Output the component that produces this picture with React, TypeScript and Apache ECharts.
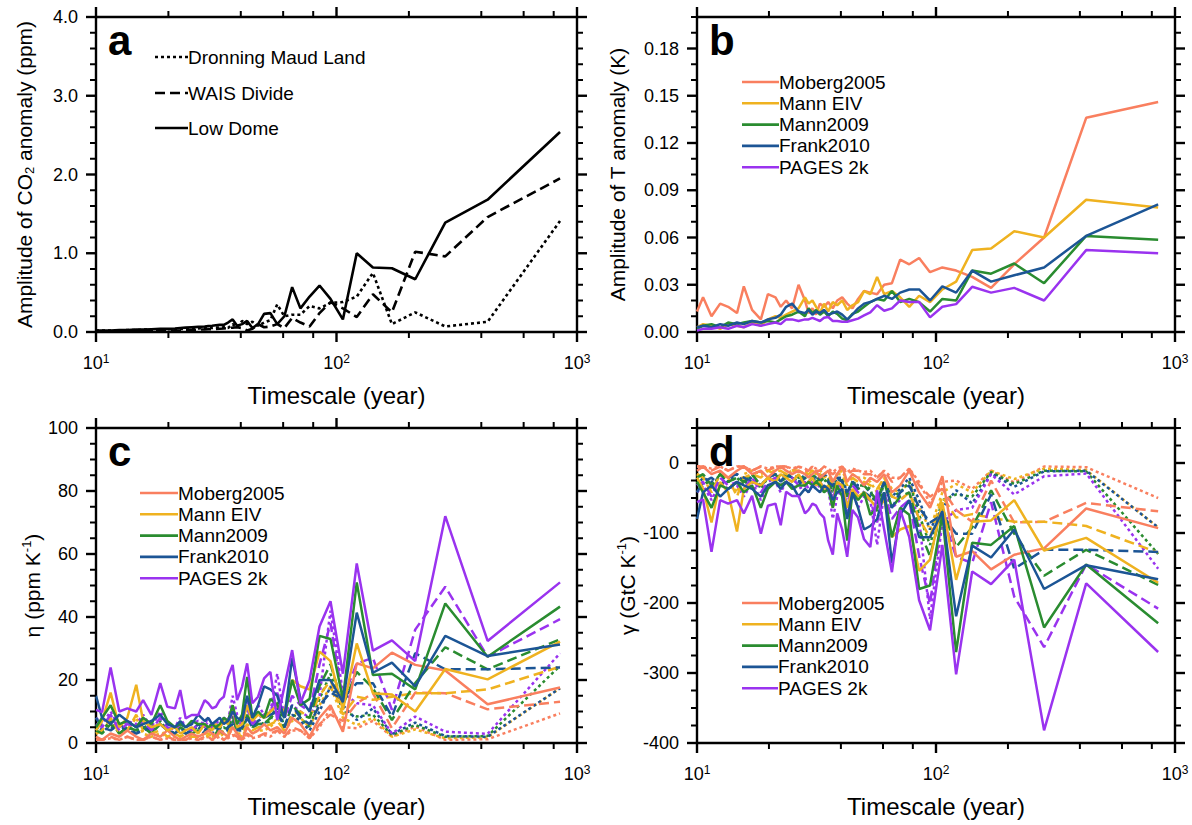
import React, { useEffect, useRef } from 'react';
import * as echarts from 'echarts';

const FONT = '"Liberation Sans", Arial, Helvetica, sans-serif';

// Timescales (years), short to long
const TIMESCALE = [10.0, 10.6, 11.5, 12.5, 13.5, 14.7, 15.7, 17.0, 18.5, 19.8, 21.3, 22.4, 23.6, 25.0, 26.6, 28.3, 29.3, 30.4, 31.5, 32.7, 34.0, 35.4, 37.0, 38.6, 40.5, 42.5, 44.7, 47.2, 50.0, 53.1, 56.7, 60.7, 65.4, 70.8, 77.3, 85.0, 94.4, 106.3, 121.4, 141.7, 170.0, 212.5, 283.3, 425.0, 850.0];

// a: amplitude of CO2 anomaly (ppm)
const CO2_DML = [0.02, 0.02, 0.02, 0.02, 0.025, 0.025, 0.03, 0.03, 0.03, 0.035, 0.035, 0.04, 0.04, 0.045, 0.045, 0.05, 0.05, 0.05, 0.055, 0.055, 0.06, 0.05, 0.1, 0.06, 0.14, 0.1, 0.13, 0.08, 0.12, 0.15, 0.35, 0.2, 0.22, 0.22, 0.33, 0.3, 0.37, 0.38, 0.45, 0.75, 0.1, 0.25, 0.07, 0.13, 1.41];
const CO2_WAIS = [0.01, 0.01, 0.01, 0.012, 0.012, 0.014, 0.015, 0.016, 0.018, 0.02, 0.02, 0.022, 0.025, 0.028, 0.03, 0.032, 0.034, 0.036, 0.04, 0.042, 0.045, 0.05, 0.055, 0.06, 0.05, 0.02, 0.04, 0.1, 0.06, 0.07, 0.1, 0.05, 0.18, 0.12, 0.07, 0.24, 0.38, 0.3, 0.19, 0.48, 0.25, 1.02, 0.96, 1.46, 1.95];
const CO2_LOW_DOME = [0.02, 0.02, 0.02, 0.025, 0.025, 0.03, 0.03, 0.035, 0.04, 0.04, 0.045, 0.05, 0.055, 0.06, 0.065, 0.07, 0.075, 0.08, 0.085, 0.09, 0.09, 0.12, 0.16, 0.08, 0.1, 0.14, 0.05, 0.1, 0.23, 0.24, 0.1, 0.2, 0.57, 0.3, 0.45, 0.59, 0.42, 0.16, 1.0, 0.82, 0.81, 0.67, 1.39, 1.68, 2.54];

// b: amplitude of temperature anomaly (K)
const T_MOBERG = [0.013, 0.022, 0.010, 0.018, 0.016, 0.012, 0.029, 0.014, 0.008, 0.024, 0.022, 0.016, 0.020, 0.015, 0.030, 0.020, 0.012, 0.015, 0.011, 0.018, 0.016, 0.019, 0.015, 0.020, 0.022, 0.018, 0.015, 0.021, 0.026, 0.025, 0.024, 0.030, 0.031, 0.046, 0.043, 0.047, 0.038, 0.041, 0.039, 0.035, 0.028, 0.043, 0.060, 0.136, 0.146];
const T_MANN_EIV = [0.003, 0.005, 0.004, 0.002, 0.005, 0.004, 0.003, 0.006, 0.004, 0.008, 0.010, 0.009, 0.011, 0.013, 0.015, 0.022, 0.018, 0.020, 0.016, 0.012, 0.018, 0.013, 0.019, 0.017, 0.020, 0.014, 0.017, 0.019, 0.026, 0.024, 0.035, 0.024, 0.026, 0.022, 0.016, 0.023, 0.019, 0.027, 0.032, 0.052, 0.053, 0.064, 0.060, 0.084, 0.079];
const T_MANN_2009 = [0.002, 0.004, 0.005, 0.003, 0.006, 0.005, 0.006, 0.007, 0.006, 0.007, 0.006, 0.008, 0.010, 0.011, 0.013, 0.010, 0.015, 0.012, 0.014, 0.011, 0.013, 0.010, 0.013, 0.0115, 0.0085, 0.0075, 0.0115, 0.013, 0.016, 0.019, 0.021, 0.020, 0.026, 0.019, 0.021, 0.019, 0.013, 0.021, 0.020, 0.039, 0.037, 0.0435, 0.031, 0.061, 0.0585];
const T_FRANK = [0.003, 0.004, 0.003, 0.005, 0.004, 0.006, 0.005, 0.007, 0.006, 0.008, 0.009, 0.011, 0.016, 0.018, 0.013, 0.012, 0.014, 0.011, 0.013, 0.012, 0.014, 0.011, 0.012, 0.013, 0.011, 0.008, 0.011, 0.015, 0.018, 0.019, 0.021, 0.023, 0.021, 0.025, 0.027, 0.027, 0.020, 0.029, 0.025, 0.039, 0.032, 0.036, 0.041, 0.061, 0.081];
const T_PAGES = [0.001, 0.002, 0.002, 0.003, 0.002, 0.004, 0.003, 0.005, 0.004, 0.005, 0.006, 0.005, 0.008, 0.008, 0.007, 0.008, 0.008, 0.009, 0.008, 0.007, 0.009, 0.0095, 0.007, 0.007, 0.0065, 0.0065, 0.0075, 0.0085, 0.0105, 0.0125, 0.017, 0.0135, 0.015, 0.020, 0.019, 0.019, 0.0093, 0.016, 0.0177, 0.0287, 0.025, 0.028, 0.020, 0.052, 0.050];

// c: eta (ppm K-1) per ice core and temperature record
const ETA_DML_MOBERG = [1, 1, 1.5, 1, 2, 1, 1, 2, 1, 1.5, 1, 1, 1, 1.5, 1, 1.5, 2, 1, 1.5, 2, 1, 1.5, 2.5, 1.5, 1, 2.5, 1.5, 2, 2.5, 2, 4, 2, 4, 4, 1.5, 5, 11, 5, 4.7, 7, 2, 5.2, 1, 1.2, 9.4];
const ETA_DML_MANN_EIV = [3, 4, 7, 3, 4, 8, 3, 2, 3, 2, 2, 2, 3, 2, 2, 3, 2, 2, 3, 2, 3, 2, 5, 3, 2, 5, 3, 4, 4, 5, 8, 4, 7, 8, 5, 12, 18, 8, 5.7, 8, 2, 4.3, 1.5, 1.8, 17.4];
const ETA_DML_MANN_2009 = [5, 4, 7, 3, 5, 4, 6, 3, 7, 4, 3, 5, 3, 4, 5, 4, 5, 4, 5, 4, 5, 4, 9, 5, 4, 9, 5, 7, 6, 7, 13, 5, 9, 8, 5, 14, 22, 10, 8.4, 9, 2.5, 5.7, 2, 2.2, 24.5];
const ETA_DML_FRANK = [6, 4, 5, 4, 5, 3, 5, 4, 6, 4, 3, 4, 3, 4, 5, 3, 4, 3, 4, 4, 3, 4, 7, 4, 4, 8, 5, 6, 6, 8, 11, 5, 9, 7, 4, 10, 18, 12, 7.3, 11, 2.8, 6.5, 2.2, 2, 17.4];
const ETA_DML_PAGES = [8, 6, 10, 5, 7, 6, 9, 5, 10, 6, 5, 8, 5, 6, 7, 6, 8, 6, 7, 6, 8, 7, 15, 9, 7, 14, 8, 12, 9, 10, 22, 8, 12, 10, 8, 15, 42, 16, 12.6, 12, 3, 8.4, 3.6, 2.9, 28.5];
const ETA_WAIS_MOBERG = [1, 1, 2, 1, 2, 1, 1, 2, 1, 2, 1, 1, 1, 2, 1, 2, 2, 1, 2, 2, 1, 2, 3, 2, 1, 3, 2, 2, 3, 3, 4, 2, 5, 4, 1.5, 6, 9, 7, 12.6, 15.8, 4.7, 16, 15.8, 10.7, 13.1];
const ETA_WAIS_MANN_EIV = [3, 4, 8, 3, 4, 9, 4, 3, 4, 2, 3, 2, 3, 2, 2, 3, 3, 2, 3, 3, 4, 3, 6, 3, 3, 6, 4, 5, 5, 6, 7, 4, 9, 10, 8, 15, 20, 9, 14.7, 13.7, 14.7, 15.8, 15.8, 17, 24.2];
const ETA_WAIS_MANN_2009 = [4, 3, 6, 3, 5, 4, 5, 3, 6, 4, 3, 5, 4, 3, 4, 4, 5, 4, 3, 5, 4, 5, 8, 4, 5, 9, 5, 6, 6, 8, 10, 5, 12, 9, 8, 18, 25, 12, 22.6, 17.4, 7.3, 19, 30.4, 23.4, 32.9];
const ETA_WAIS_FRANK = [8, 5, 4, 6, 4, 3, 4, 5, 6, 4, 3, 5, 3, 4, 6, 4, 5, 4, 5, 4, 3, 5, 6, 4, 5, 8, 5, 7, 8, 9, 10, 5, 12, 8, 6, 12, 16, 14, 19, 19, 8.4, 28.5, 23.4, 23.4, 24];
const ETA_WAIS_PAGES = [6, 5, 9, 4, 6, 5, 7, 4, 8, 5, 4, 6, 5, 4, 6, 5, 7, 5, 6, 5, 7, 6, 10, 5, 7, 11, 6, 8, 9, 10, 16, 8, 15, 12, 10, 25, 38, 14, 25.3, 27, 10.5, 36, 49.6, 27.4, 39.3];
const ETA_LD_MOBERG = [2, 1, 3, 2, 4, 2, 1, 3, 2, 4, 2, 1, 2, 3, 2, 3, 4, 3, 2, 4, 3, 2, 5, 3, 1, 5, 3, 4, 6, 4, 5, 3, 8, 6, 2, 8, 12, 3.6, 25.3, 23.7, 28.7, 24.8, 23, 12.3, 17.6];
const ETA_LD_MANN_EIV = [4, 7, 16, 5, 8, 18.5, 7, 5, 6, 4, 5, 3, 4, 5, 3, 6, 5, 4, 6, 5, 7, 6, 12, 5, 6, 12, 7, 9, 8, 10, 12, 10, 20, 18, 17, 29, 26, 10.5, 31.6, 15.8, 15.4, 10, 23.5, 20.2, 32.2];
const ETA_LD_MANN_2009 = [5, 8, 12, 6, 7, 5, 8, 6, 12, 7, 5, 6, 5, 7, 6, 6, 5, 6, 5, 6, 8, 7, 12, 6, 9, 21, 8, 10, 8, 14, 12, 8, 20, 12, 14, 34, 33, 14, 51, 21.6, 22, 17, 44.3, 27.4, 43.3];
const ETA_LD_FRANK = [15, 8, 6, 9, 7, 5, 6, 7, 9, 6, 5, 7, 5, 6, 9, 7, 8, 6, 7, 8, 6, 7, 10, 8, 7, 15, 8, 12, 18, 17, 15, 8, 27, 14, 10, 20, 20, 13, 41.4, 22.3, 25.5, 18, 34, 27.6, 31.3];
const ETA_LD_PAGES = [10.5, 9.8, 24, 10, 11, 10, 13.6, 8.9, 19, 11.5, 11, 16.8, 7.8, 8.9, 8.9, 13.6, 12.6, 11, 11.5, 13.6, 14.7, 21, 24.8, 13.6, 17.9, 25.3, 12.6, 14.7, 20.5, 22.6, 7.3, 17.9, 29.5, 12.6, 20, 37, 45, 22, 57, 29.3, 32.6, 26, 72, 32.4, 51];

// d: gamma (GtC K-1) per ice core and temperature record
const GAMMA_DML_MOBERG = [-5, -5, -8, -5, -11, -5, -5, -11, -5, -8, -5, -5, -5, -8, -5, -8, -11, -5, -8, -11, -5, -8, -13, -8, -5, -13, -8, -11, -13, -11, -21, -11, -21, -21, -8, -27, -58, -27, -25, -37, -11, -28, -5, -6, -50];
const GAMMA_DML_MANN_EIV = [-16, -21, -37, -16, -21, -42, -16, -11, -16, -11, -11, -11, -16, -11, -11, -16, -11, -11, -16, -11, -16, -11, -27, -16, -11, -27, -16, -21, -21, -27, -42, -21, -37, -42, -27, -64, -95, -42, -30, -42, -11, -23, -8, -10, -92];
const GAMMA_DML_MANN_2009 = [-27, -21, -37, -16, -27, -21, -32, -16, -37, -21, -16, -27, -16, -21, -27, -21, -27, -21, -27, -21, -27, -21, -48, -27, -21, -48, -27, -37, -32, -37, -69, -27, -48, -42, -27, -74, -117, -53, -45, -48, -13, -30, -11, -12, -130];
const GAMMA_DML_FRANK = [-32, -21, -27, -21, -27, -16, -27, -21, -32, -21, -16, -21, -16, -21, -27, -16, -21, -16, -21, -21, -16, -21, -37, -21, -21, -42, -27, -32, -32, -42, -58, -27, -48, -37, -21, -53, -95, -64, -39, -58, -15, -34, -12, -11, -92];
const GAMMA_DML_PAGES = [-42, -32, -53, -27, -37, -32, -48, -27, -53, -32, -27, -42, -27, -32, -37, -32, -42, -32, -37, -32, -42, -37, -80, -48, -37, -74, -42, -64, -48, -53, -117, -42, -64, -53, -42, -80, -223, -85, -67, -64, -16, -45, -19, -15, -151];
const GAMMA_WAIS_MOBERG = [-5, -5, -11, -5, -11, -5, -5, -11, -5, -11, -5, -5, -5, -11, -5, -11, -11, -5, -11, -11, -5, -11, -16, -11, -5, -16, -11, -11, -16, -16, -21, -11, -27, -21, -8, -32, -48, -37, -67, -84, -25, -85, -84, -57, -69];
const GAMMA_WAIS_MANN_EIV = [-16, -21, -42, -16, -21, -48, -21, -16, -21, -11, -16, -11, -16, -11, -11, -16, -16, -11, -16, -16, -21, -16, -32, -16, -16, -32, -21, -27, -27, -32, -37, -21, -48, -53, -42, -80, -106, -48, -78, -73, -78, -84, -84, -90, -128];
const GAMMA_WAIS_MANN_2009 = [-21, -16, -32, -16, -27, -21, -27, -16, -32, -21, -16, -27, -21, -16, -21, -21, -27, -21, -16, -27, -21, -27, -42, -21, -27, -48, -27, -32, -32, -42, -53, -27, -64, -48, -42, -95, -133, -64, -120, -92, -39, -101, -161, -124, -174];
const GAMMA_WAIS_FRANK = [-42, -27, -21, -32, -21, -16, -21, -27, -32, -21, -16, -27, -16, -21, -32, -21, -27, -21, -27, -21, -16, -27, -32, -21, -27, -42, -27, -37, -42, -48, -53, -27, -64, -42, -32, -64, -85, -74, -101, -101, -45, -151, -124, -124, -127];
const GAMMA_WAIS_PAGES = [-32, -27, -48, -21, -32, -27, -37, -21, -42, -27, -21, -32, -27, -21, -32, -27, -37, -27, -32, -27, -37, -32, -53, -27, -37, -58, -32, -42, -48, -53, -85, -42, -80, -64, -53, -133, -201, -74, -134, -143, -56, -191, -263, -145, -208];
const GAMMA_LD_MOBERG = [-11, -5, -16, -11, -21, -11, -5, -16, -11, -21, -11, -5, -11, -16, -11, -16, -21, -16, -11, -21, -16, -11, -27, -16, -5, -27, -16, -21, -32, -21, -27, -16, -42, -32, -11, -42, -64, -19, -134, -126, -152, -131, -122, -65, -93];
const GAMMA_LD_MANN_EIV = [-21, -37, -85, -27, -42, -98, -37, -27, -32, -21, -27, -16, -21, -27, -16, -32, -27, -21, -32, -27, -37, -32, -64, -27, -32, -64, -37, -48, -42, -53, -64, -53, -106, -95, -90, -154, -138, -56, -167, -84, -82, -53, -125, -107, -171];
const GAMMA_LD_MANN_2009 = [-27, -42, -64, -32, -37, -27, -42, -32, -64, -37, -27, -32, -27, -37, -32, -32, -27, -32, -27, -32, -42, -37, -64, -32, -48, -111, -42, -53, -42, -74, -64, -42, -106, -64, -74, -180, -175, -74, -270, -114, -117, -90, -235, -145, -229];
const GAMMA_LD_FRANK = [-80, -42, -32, -48, -37, -27, -32, -37, -48, -32, -27, -37, -27, -32, -48, -37, -42, -32, -37, -42, -32, -37, -53, -42, -37, -80, -42, -64, -95, -90, -80, -42, -143, -74, -53, -106, -106, -69, -219, -118, -135, -95, -180, -146, -166];
const GAMMA_LD_PAGES = [-56, -52, -127, -53, -58, -53, -72, -47, -101, -61, -58, -89, -41, -47, -47, -72, -67, -58, -61, -72, -78, -111, -131, -72, -95, -134, -67, -78, -109, -120, -39, -95, -156, -67, -106, -196, -239, -117, -302, -155, -173, -138, -382, -172, -270];

const RECORDS = ['Moberg2005', 'Mann EIV', 'Mann2009', 'Frank2010', 'PAGES 2k'];
const CORES = ['Dronning Maud Land', 'WAIS Divide', 'Low Dome'];

const ETA = [
  [ETA_DML_MOBERG, ETA_DML_MANN_EIV, ETA_DML_MANN_2009, ETA_DML_FRANK, ETA_DML_PAGES],
  [ETA_WAIS_MOBERG, ETA_WAIS_MANN_EIV, ETA_WAIS_MANN_2009, ETA_WAIS_FRANK, ETA_WAIS_PAGES],
  [ETA_LD_MOBERG, ETA_LD_MANN_EIV, ETA_LD_MANN_2009, ETA_LD_FRANK, ETA_LD_PAGES],
];
const GAMMA = [
  [GAMMA_DML_MOBERG, GAMMA_DML_MANN_EIV, GAMMA_DML_MANN_2009, GAMMA_DML_FRANK, GAMMA_DML_PAGES],
  [GAMMA_WAIS_MOBERG, GAMMA_WAIS_MANN_EIV, GAMMA_WAIS_MANN_2009, GAMMA_WAIS_FRANK, GAMMA_WAIS_PAGES],
  [GAMMA_LD_MOBERG, GAMMA_LD_MANN_EIV, GAMMA_LD_MANN_2009, GAMMA_LD_FRANK, GAMMA_LD_PAGES],
];
const CO2 = [CO2_DML, CO2_WAIS, CO2_LOW_DOME];
const TEMP = [T_MOBERG, T_MANN_EIV, T_MANN_2009, T_FRANK, T_PAGES];

// Tick values and labels
const X_MAJOR_TICKS = [10, 100, 1000];
const X_MINOR_TICKS = [20, 40, 60, 80, 200, 400, 600, 800];
const A_Y_LABELS = ['0.0', '1.0', '2.0', '3.0', '4.0'];
const B_Y_LABELS = ['0.00', '0.03', '0.06', '0.09', '0.12', '0.15', '0.18'];
const C_Y_LABELS = ['0', '20', '40', '60', '80', '100'];
const D_Y_LABELS = ['-400', '-300', '-200', '-100', '0'];

const RECORD_COLORS = ['#F97F5F', '#EFB220', '#2A8C30', '#1C5595', '#9A33EF'];
const CORE_DASH: any[] = [[3, 3], [10, 5], 'solid'];

const PANELS = [
  { letter: 'a', left: 96, top: 17, width: 481, min: 0, max: 4, interval: 1, minor: 0.2, labels: A_Y_LABELS, nameGap: 60,
    name: 'Amplitude of CO{sub|2} anomaly (ppm)' },
  { letter: 'b', left: 697, top: 17, width: 478, min: 0, max: 0.2, interval: 0.03, minor: 0.01, labels: B_Y_LABELS, nameGap: 68,
    name: 'Amplitude of T anomaly (K)' },
  { letter: 'c', left: 96, top: 428, width: 481, min: 0, max: 100, interval: 20, minor: 5, labels: C_Y_LABELS, nameGap: 50,
    name: 'η (ppm K{sup|-1})' },
  { letter: 'd', left: 697, top: 428, width: 478, min: -400, max: 50, interval: 100, minor: 25, labels: D_Y_LABELS, nameGap: 56,
    name: 'γ (GtC K{sup|-1})' },
];
const PLOT_HEIGHT = 315;

const pairs = (vals: number[]) => TIMESCALE.map((t, i) => [t, vals[i]]);

function yTickValues(p: any) {
  const major: number[] = [];
  const minor: number[] = [];
  const per = Math.round(p.interval / p.minor);
  for (let k = 0; p.min + k * p.minor <= p.max + 1e-9; k++) {
    const v = +(p.min + k * p.minor).toFixed(6);
    if (k % per === 0) major.push(v); else minor.push(v);
  }
  return { major, minor };
}

function buildOption() {
  const grid: any[] = [];
  const xAxis: any[] = [];
  const yAxis: any[] = [];
  const series: any[] = [];
  const graphic: any[] = [];

  const black = '#000';
  PANELS.forEach((p, g) => {
    grid.push({ left: p.left, top: p.top, width: p.width, height: PLOT_HEIGHT, containLabel: false });
    const xBase = {
      type: 'log', logBase: 10, min: 10, max: 1000, gridIndex: g,
      axisLine: { show: true, onZero: false, lineStyle: { color: black, width: 2.4 } },
      axisTick: { show: false },
      splitLine: { show: false },
    };
    xAxis.push({
      ...xBase, position: 'bottom',
      axisLabel: {
        margin: 21, color: black,
        formatter: (v: number) => `{b|10}{s|${Math.round(Math.log10(v))}}`,
        rich: {
          b: { fontSize: 18, fontFamily: FONT, color: black, lineHeight: 20 },
          s: { fontSize: 12, fontFamily: FONT, color: black, verticalAlign: 'top', lineHeight: 12 },
        },
      },
      name: 'Timescale (year)', nameLocation: 'middle', nameGap: 51,
      nameTextStyle: { fontSize: 24, fontFamily: FONT, color: black },
    });
    xAxis.push({ ...xBase, position: 'top', axisLabel: { show: false } });

    const yBase = {
      type: 'value', min: p.min, max: p.max, interval: p.interval, gridIndex: g,
      axisLine: { show: true, onZero: false, lineStyle: { color: black, width: 2.4 } },
      axisTick: { show: false },
      splitLine: { show: false },
    };
    const labels = p.labels;
    yAxis.push({
      ...yBase, position: 'left',
      axisLabel: {
        margin: 18, color: black, fontSize: 18, fontFamily: FONT,
        formatter: (v: number) => labels[Math.round((v - p.min) / p.interval)] ?? '',
      },
      name: p.name, nameLocation: 'middle', nameRotate: 90, nameGap: p.nameGap,
      nameTextStyle: {
        fontSize: 21, fontFamily: FONT, color: black, lineHeight: 24,
        rich: {
          sub: { fontSize: 13, fontFamily: FONT, color: black, verticalAlign: 'bottom', lineHeight: 13 },
          sup: { fontSize: 13, fontFamily: FONT, color: black, verticalAlign: 'top', lineHeight: 13 },
        },
      },
    });
    yAxis.push({ ...yBase, position: 'right', axisLabel: { show: false } });

    // outward major and minor ticks on all four sides of the frame
    const yt = yTickValues(p);
    const yMid = (p.min + p.max) / 2;
    series.push({
      type: 'custom', coordinateSystem: 'cartesian2d', xAxisIndex: 2 * g, yAxisIndex: 2 * g,
      silent: true, clip: false, z: 10,
      data: [[100, yMid]],
      renderItem: (params: any, api: any) => {
        const cs = params.coordSys;
        const children: any[] = [];
        const add = (x1: number, y1: number, x2: number, y2: number, w: number) =>
          children.push({ type: 'line', shape: { x1, y1, x2, y2 }, style: { stroke: black, lineWidth: w } });
        const xTick = (v: number, len: number, w: number) => {
          const px = api.coord([v, yMid])[0];
          add(px, cs.y + cs.height, px, cs.y + cs.height + len, w);
          add(px, cs.y, px, cs.y - len, w);
        };
        const yTick = (v: number, len: number, w: number) => {
          const py = api.coord([100, v])[1];
          add(cs.x, py, cs.x - len, py, w);
          add(cs.x + cs.width, py, cs.x + cs.width + len, py, w);
        };
        X_MAJOR_TICKS.forEach((v) => xTick(v, 10, 2.4));
        X_MINOR_TICKS.forEach((v) => xTick(v, 6, 2));
        yt.major.forEach((v) => yTick(v, 10, 2.4));
        yt.minor.forEach((v) => yTick(v, 6, 2));
        return { type: 'group', children };
      },
    });

    graphic.push({
      type: 'text', x: p.left + 12, y: p.top + 23,
      style: { text: p.letter, fontSize: 42, fontWeight: 'bold', fontFamily: FONT, fill: black, verticalAlign: 'middle', textVerticalAlign: 'middle' },
      z: 20,
    });
  });

  const lineSeries = (g: number, name: string, vals: number[], color: string, dash: any, width = 2.5) => ({
    type: 'line', name, xAxisIndex: 2 * g, yAxisIndex: 2 * g, data: pairs(vals),
    showSymbol: false, symbol: 'none', clip: true, z: 3,
    lineStyle: { color, width, type: dash, cap: 'butt' }, itemStyle: { color },
    emphasis: { disabled: true },
  });

  // a
  CORES.forEach((c, i) => series.push(lineSeries(0, c, CO2[i], '#000', CORE_DASH[i], 2.6)));
  // b
  RECORDS.forEach((r, j) => series.push(lineSeries(1, r, TEMP[j], RECORD_COLORS[j], 'solid')));
  // c, d
  CORES.forEach((c, i) => RECORDS.forEach((r, j) => {
    series.push(lineSeries(2, `${r} ${c}`, ETA[i][j], RECORD_COLORS[j], CORE_DASH[i]));
    series.push(lineSeries(3, `${r} ${c}`, GAMMA[i][j], RECORD_COLORS[j], CORE_DASH[i]));
  }));

  // legends
  const legendText = (x: number, y: number, text: string) => ({
    type: 'text', x, y, z: 20,
    style: { text, fontSize: 19, fontFamily: FONT, fill: '#000', verticalAlign: 'middle', textVerticalAlign: 'middle', align: 'left', textAlign: 'left' },
  });
  const legendLine = (x1: number, x2: number, y: number, color: string, dash: any) => ({
    type: 'line', z: 20, shape: { x1, y1: y, x2, y2: y },
    style: { stroke: color, lineWidth: 2.6, lineDash: dash === 'solid' ? null : dash },
  });
  [57, 93, 128].forEach((y, i) => {
    graphic.push(legendLine(155, 188, y, '#000', CORE_DASH[i]));
    graphic.push(legendText(188, y, CORES[i]));
  });
  const recordLegend = (x1: number, x2: number, y0: number) => {
    RECORDS.forEach((r, j) => {
      const y = y0 + j * 21.3;
      graphic.push(legendLine(x1, x2, y, RECORD_COLORS[j], 'solid'));
      graphic.push(legendText(x2, y, r));
    });
  };
  recordLegend(742, 779, 82);
  recordLegend(140, 178, 493);
  recordLegend(742, 778, 603);

  return {
    animation: false,
    backgroundColor: '#fff',
    textStyle: { fontFamily: FONT },
    grid, xAxis, yAxis, series, graphic,
  };
}

export default function App() {
  const ref = useRef<HTMLDivElement>(null);
  useEffect(() => {
    document.body.style.margin = '0';
    if (!ref.current) return;
    const chart = echarts.init(ref.current, undefined, { renderer: 'svg' });
    chart.setOption(buildOption() as any);
    return () => chart.dispose();
  }, []);
  return <div ref={ref} style={{ width: 1192, height: 825 }} />;
}
